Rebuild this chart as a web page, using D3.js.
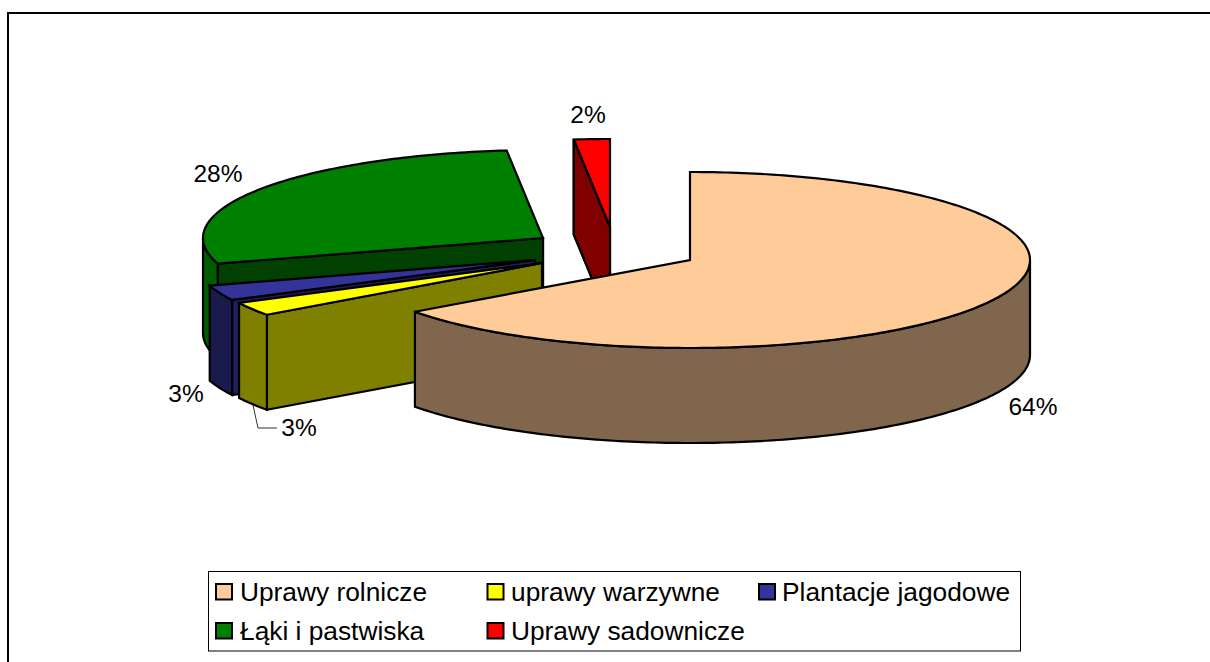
<!DOCTYPE html>
<html><head><meta charset="utf-8">
<script src="https://cdn.jsdelivr.net/npm/d3@7"></script>
<style>html,body{margin:0;padding:0;background:#fff}svg{display:block}text{font-family:"Liberation Sans",Arial,sans-serif;fill:#000}</style>
</head><body><svg id="c" width="1210" height="662"></svg>
<script>
const categories = ["Uprawy rolnicze","uprawy warzywne","Plantacje jagodowe","Łąki i pastwiska","Uprawy sadownicze"];
const shares = [65.0, 2.5, 2.8, 28.0, 1.7];
const percentLabels = ["64%","3%","3%","28%","2%"];
const topColors = ["#FFCC99","#FFFF00","#333399","#008000","#FF0000"];
const wallColors = ["#80664D","#808000","#1A1A4D","#005C00","#800000"];
const cutColors = ["#80664D","#808000","#1F1F60","#004000","#800000"];

const W=1210,H=662, RX=340, RY=88, DEPTH=95;
const svg=d3.select("#c");
// chart frame (open on the right and bottom)
svg.append("path").attr("d",`M8,${H+5}V13H${W+5}`).attr("fill","none").attr("stroke","#000").attr("stroke-width",2);

const pie=d3.pie().value(d=>d).sort(null).startAngle(0).endAngle(2*Math.PI);
const arcs=pie(shares);
// exploded slice apex for each slice
const apex=[[690,260],[542,263],[535,260],[543,238],[610,227]];
const scaleX=d3.scaleLinear().domain([-1,1]);
const scaleY=d3.scaleLinear().domain([-1,1]);
const pt=(i,a,dz=0)=>{
  const [cx,cy]=apex[i];
  scaleX.range([cx-RX,cx+RX]); scaleY.range([cy-RY,cy+RY]);
  return [scaleX(Math.sin(a)),scaleY(-Math.cos(a))+dz];
};
const line=d3.line();
const arcPts=(i,a0,a1,dz=0)=>{
  const n=Math.max(2,Math.ceil(Math.abs(a1-a0)*180/Math.PI));
  return d3.range(n+1).map(k=>pt(i,a0+(a1-a0)*k/n,dz));
};
const apexPt=(i,dz=0)=>[apex[i][0],apex[i][1]+dz];
const shape=(pts,fill)=>svg.append("path").attr("d",line(pts)+"Z").attr("fill",fill)
  .attr("stroke","#000").attr("stroke-width",2.2).attr("stroke-linejoin","miter").attr("stroke-miterlimit",3);

function drawSlice(i){
  const a0=arcs[i].startAngle,a1=arcs[i].endAngle;
  // cut face at the start angle, when it faces the viewer (left half)
  if(a0>Math.PI) shape([apexPt(i),pt(i,a0),pt(i,a0,DEPTH),apexPt(i,DEPTH)],cutColors[i]);
  if(i===3) shape([apexPt(i),pt(i,a0),pt(i,a0,DEPTH),apexPt(i,DEPTH)],cutColors[i]);
  if(i===4) shape([pt(i,a0),apexPt(i),apexPt(i,DEPTH),pt(i,a0,DEPTH)],cutColors[i]);
  // outer wall, front half only
  const f0=Math.max(a0,Math.PI/2), f1=Math.min(a1,3*Math.PI/2);
  if(f1>f0){
    const top=arcPts(i,f0,f1), bot=arcPts(i,f1,f0,DEPTH);
    shape(top.concat(bot),wallColors[i]);
  }
  // top face
  shape([apexPt(i)].concat(arcPts(i,a0,a1)),topColors[i]);
}
[3,4,2,1,0].forEach(drawSlice);

// leader line
svg.append("path").attr("d",d3.line()([[253,405],[258,428],[277,428]])).attr("fill","none").attr("stroke","#333").attr("stroke-width",1);

// data labels
const labelPos=[[1033,415],[299,436],[186,402],[218,182],[588,123]];
svg.selectAll("text.lab").data(percentLabels).join("text").attr("class","lab")
  .attr("x",(d,i)=>labelPos[i][0]).attr("y",(d,i)=>labelPos[i][1])
  .attr("text-anchor","middle").attr("font-size",24.5).text(d=>d);

// legend
svg.append("rect").attr("x",208.5).attr("y",571.5).attr("width",812).attr("height",79.5).attr("fill","#fff").attr("stroke","#000").attr("stroke-width",1);
const colX=d3.scalePoint().domain([0,1,2]).range([216,759]);
const rowY=d3.scalePoint().domain([0,1]).range([584,623]);
const g=svg.selectAll("g.leg").data(categories).join("g").attr("class","leg")
  .attr("transform",(d,i)=>`translate(${colX(i%3)},${rowY(Math.floor(i/3))})`);
g.append("rect").attr("width",16).attr("height",15.5).attr("fill",(d,i)=>topColors[i]).attr("stroke","#000").attr("stroke-width",2);
g.append("text").attr("x",(d,i)=>i%3===2?23:(i%3===1?23.5:24)).attr("y",16.5).attr("font-size",26.3).text(d=>d);
</script></body></html>
